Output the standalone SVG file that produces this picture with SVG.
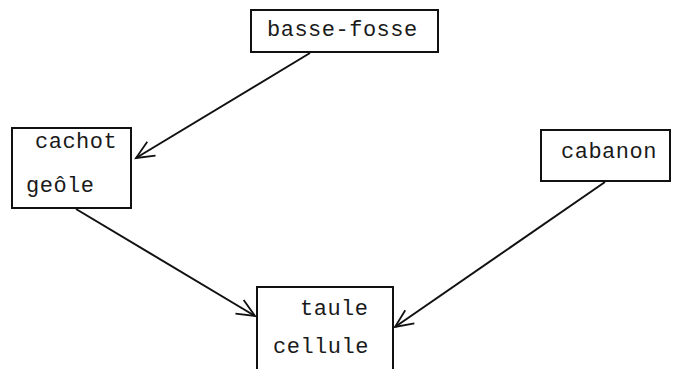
<svg xmlns="http://www.w3.org/2000/svg" width="674" height="369" viewBox="0 0 674 369">
  <style>
    .box { fill: #fff; stroke: #111; stroke-width: 2; }
    .lbl { font-family: "Liberation Mono", "Courier New", monospace; font-size: 22px; letter-spacing: 0.5px; fill: #1a1a1a; }
    .edge { fill: none; stroke: #111; stroke-width: 2; }
  </style>
  <defs>
    <marker id="vee" markerWidth="24" markerHeight="20" refX="20" refY="10" orient="auto" markerUnits="userSpaceOnUse">
      <path d="M2,2 L20,10 L2,18" fill="none" stroke="#111" stroke-width="1.8"/>
    </marker>
  </defs>
  <rect width="674" height="369" fill="#fff"/>

  <g id="edges">
    <line class="edge" x1="310" y1="53" x2="136" y2="158" marker-end="url(#vee)"/>
    <line class="edge" x1="76" y1="209" x2="255" y2="316" marker-end="url(#vee)"/>
    <line class="edge" x1="605" y1="182" x2="395" y2="327" marker-end="url(#vee)"/>
  </g>

  <g id="basse-fosse">
    <rect class="box" x="251" y="10" width="187" height="42"/>
    <text class="lbl" x="267" y="36">basse-fosse</text>
  </g>

  <g id="cachot-geole">
    <rect class="box" x="12" y="128" width="119" height="80"/>
    <text class="lbl" x="35" y="148">cachot</text>
    <text class="lbl" x="26" y="192">geôle</text>
  </g>

  <g id="cabanon">
    <rect class="box" x="541" y="130" width="129" height="51"/>
    <text class="lbl" x="561" y="158">cabanon</text>
  </g>

  <g id="taule-cellule">
    <rect class="box" x="257" y="287" width="136" height="90"/>
    <text class="lbl" x="300" y="315">taule</text>
    <text class="lbl" x="273" y="353">cellule</text>
  </g>
</svg>
